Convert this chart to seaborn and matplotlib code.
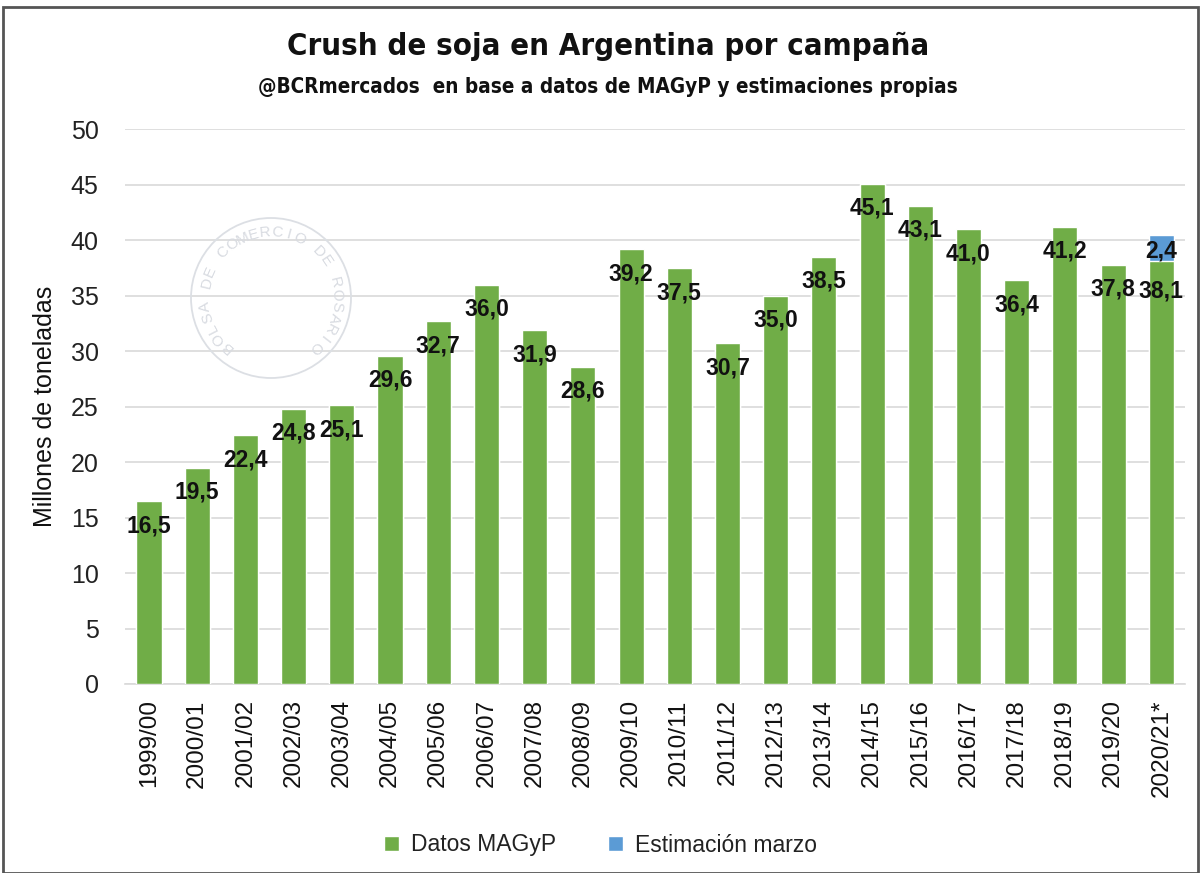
import matplotlib
matplotlib.use("Agg")
import matplotlib.pyplot as plt
import seaborn as sns
import pandas as pd
import numpy as np
from matplotlib.patches import Rectangle, Ellipse

campaigns = ["1999/00", "2000/01", "2001/02", "2002/03", "2003/04", "2004/05", "2005/06",
             "2006/07", "2007/08", "2008/09", "2009/10", "2010/11", "2011/12", "2012/13",
             "2013/14", "2014/15", "2015/16", "2016/17", "2017/18", "2018/19", "2019/20", "2020/21*"]
datos_magyp = [16.5, 19.5, 22.4, 24.8, 25.1, 29.6, 32.7, 36.0, 31.9, 28.6, 39.2, 37.5, 30.7,
               35.0, 38.5, 45.1, 43.1, 41.0, 36.4, 41.2, 37.8, 38.1]
estimacion_marzo = [0, 0, 0, 0, 0, 0, 0, 0, 0, 0, 0, 0, 0, 0, 0, 0, 0, 0, 0, 0, 0, 2.4]

GREEN = "#70AD47"
BLUE = "#5B9BD5"
W, H = 1201, 873

df = pd.DataFrame({"campaign": campaigns, "magyp": datos_magyp, "est": estimacion_marzo})
df["total"] = df["magyp"] + df["est"]

sns.set_theme(style="white")
plt.rcParams["font.family"] = ["Liberation Sans", "DejaVu Sans"]

fig = plt.figure(figsize=(12.01, 8.73), dpi=100)

# watermark seal (drawn faint, behind everything)
cx, cy, R = 271, 298, 80
fig.patches.append(Ellipse((cx / W, 1 - cy / H), 2 * R / W, 2 * R / H, transform=fig.transFigure,
                           fill=False, edgecolor="#DCDFE4", linewidth=1.3, zorder=0))
seal = "BOLSA DE COMERCIO DE ROSARIO"
angles = np.linspace(np.deg2rad(228), np.deg2rad(-48), len(seal))
for ch, a in zip(seal, angles):
    r = 66
    fig.text((cx + r * np.cos(a)) / W, 1 - (cy - r * np.sin(a)) / H, ch, fontsize=11,
             color="#D8DBE1", ha="center", va="center", rotation=np.rad2deg(a) - 90,
             rotation_mode="anchor", zorder=0)

ax = fig.add_axes([0.104, 0.2165, 0.883, 0.6355])
ax.patch.set_alpha(0)

sns.barplot(data=df, x="campaign", y="total", color=BLUE, width=0.52, ax=ax,
            saturation=1, label="Estimación marzo", zorder=2)
sns.barplot(data=df, x="campaign", y="magyp", color=GREEN, width=0.52, ax=ax,
            saturation=1, label="Datos MAGyP", zorder=3)

ax.set_ylim(0, 50)
ax.set_xlim(-0.5, len(campaigns) - 0.5)
ax.set_yticks(np.arange(0, 51, 5))
ax.yaxis.grid(True, color="#D9D9D9", linewidth=1.2, zorder=0)
ax.set_axisbelow(True)
for s in ["top", "right", "left"]:
    ax.spines[s].set_visible(False)
ax.spines["bottom"].set_color("#D9D9D9")
ax.spines["bottom"].set_linewidth(1.2)
ax.tick_params(axis="both", length=0)
ax.tick_params(axis="y", labelsize=18, colors="#222222", pad=19)
ax.tick_params(axis="x", labelsize=17.5, colors="#111111", pad=11)
for lbl in ax.get_xticklabels():
    lbl.set_rotation(90)
ax.set_xlabel("")
ax.set_ylabel("Millones de toneladas", fontsize=18, color="#111111", labelpad=10)

# data labels
green_cont = ax.containers[1]
blue_cont = ax.containers[0]
n = len(datos_magyp)
fmt = lambda v: f"{v:.1f}".replace(".", ",")
ax.bar_label(green_cont, labels=[fmt(v) if i < n - 1 else "" for i, v in enumerate(datos_magyp)],
             label_type="edge", padding=-26, fontsize=16.5, fontweight="bold", color="#111111",
             zorder=5)
ax.bar_label(green_cont, labels=[fmt(v) if i == n - 1 else "" for i, v in enumerate(datos_magyp)],
             label_type="edge", padding=-30, fontsize=16.5, fontweight="bold", color="#111111",
             zorder=5)
blue_labels = [fmt(e) if e > 0 else "" for e in estimacion_marzo]
ax.bar_label(blue_cont, labels=blue_labels, label_type="edge", padding=-20,
             fontsize=16.5, fontweight="bold", color="#111111", zorder=5)

# titles
fig.text(0.506, 1 - 46 / H, "Crush de soja en Argentina por campaña", ha="center",
         va="center", fontsize=22.3, fontweight="bold", family="DejaVu Sans",
         fontstretch="condensed", color="#111111")
fig.text(0.506, 1 - 87 / H, "@BCRmercados  en base a datos de MAGyP y estimaciones propias",
         ha="center", va="center", fontsize=14.9, fontweight="bold", family="DejaVu Sans",
         fontstretch="condensed", color="#111111")

# legend
handles, labels = ax.get_legend_handles_labels()
order = [labels.index("Datos MAGyP"), labels.index("Estimación marzo")]
leg = fig.legend([handles[i] for i in order], [labels[i] for i in order],
                 loc="center", bbox_to_anchor=(0.5, 1 - 845 / H), ncol=2, frameon=False,
                 fontsize=16.5, handlelength=0.65, handleheight=0.65, columnspacing=2.3,
                 handletextpad=0.5)
for t in leg.get_texts():
    t.set_color("#222222")
if ax.get_legend() is not None:
    ax.get_legend().remove()

# outer border
fig.patches.append(Rectangle((3 / W, 0), 1195 / W, 1 - 7 / H, transform=fig.transFigure,
                             fill=False, edgecolor="#555555", linewidth=2, zorder=10))

fig.savefig("out.png", dpi=100)
